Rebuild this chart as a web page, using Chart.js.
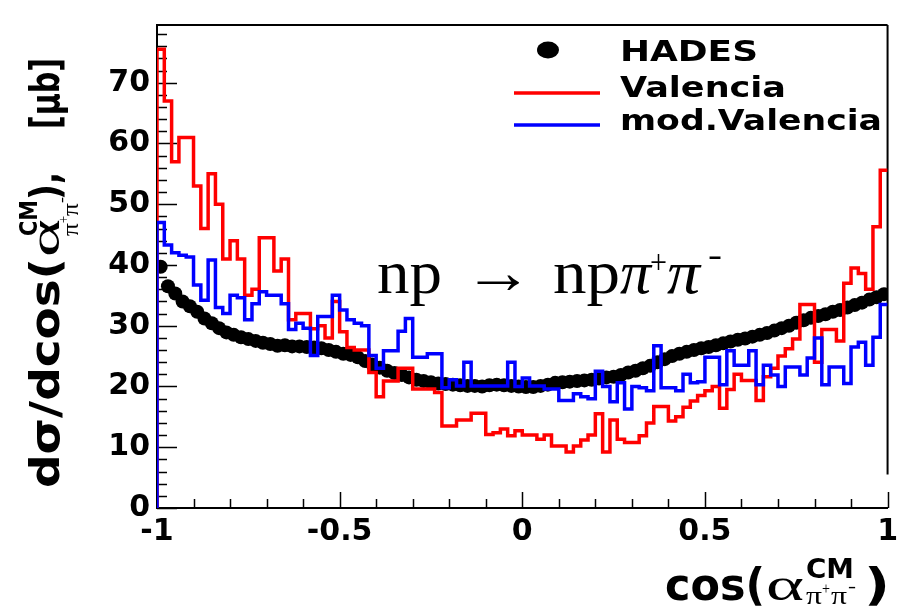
<!DOCTYPE html>
<html><head><meta charset="utf-8">
<script src="https://cdn.jsdelivr.net/npm/chart.js@4/dist/chart.umd.min.js"></script>
<style>html,body{margin:0;padding:0;background:#fff;}#wrap{width:904px;height:610px;}</style>
</head><body><div id="wrap"><canvas id="c" width="904" height="610"></canvas></div>
<script>
// ---- data ----
const xRange = [-1, 1];           // cos(alpha) range, 100 bins
const seriesNames = ['HADES', 'Valencia', 'mod.Valencia'];
const xTickLabels = ['-1', '-0.5', '0', '0.5', '1'];
const yTickLabels = ['0', '10', '20', '30', '40', '50', '60', '70'];
const hades = [39.7, 36.5, 35.3, 34.0, 33.2, 32.3, 31.2, 30.4, 29.6, 28.9,
  28.5, 28.1, 27.8, 27.5, 27.2, 27.0, 26.7, 26.8, 26.6, 26.6,
  26.5, 26.4, 26.3, 26.0, 25.7, 25.4, 25.2, 24.8, 24.2, 23.6,
  23.1, 22.6, 22.2, 21.9, 21.5, 21.1, 20.9, 20.7, 20.5, 20.4,
  20.3, 20.2, 20.1, 20.1, 20.0, 20.2, 20.3, 20.2, 20.1, 20.0,
  19.9, 19.9, 20.1, 20.3, 20.6, 20.7, 20.8, 20.9, 21.0, 21.1,
  21.3, 21.5, 21.6, 21.9, 22.3, 22.6, 23.0, 23.4, 24.0, 24.5,
  25.0, 25.4, 25.7, 26.0, 26.3, 26.5, 26.8, 27.1, 27.4, 27.7,
  27.9, 28.2, 28.5, 28.8, 29.2, 29.6, 30.0, 30.5, 30.9, 31.3,
  31.6, 31.9, 32.3, 32.6, 33.0, 33.4, 33.8, 34.3, 34.7, 35.2];
const valencia = [75.5, 67, 57, 61, 61, 53, 46, 55, 50, 41,
  44, 41, 35, 36, 44.5, 44.5, 39, 41, 31, 32,
  32, 29.5, 30, 28, 34, 29, 26.4, 26, 26, 22.3,
  18.3, 20.9, 20.9, 23, 23, 19.6, 19.6, 19.6, 19, 13.5,
  13.5, 14.5, 14.5, 15.6, 15.6, 12.1, 12.4, 13, 11.9, 12.7,
  12, 12, 11.3, 12, 10.2, 10.2, 9.2, 10.2, 11.2, 12,
  15.5, 9.2, 14.5, 11.3, 10.8, 10.8, 11.9, 14, 16.7, 16.7,
  14.3, 15, 16.6, 17.6, 18.5, 19.3, 20, 16.4, 19.5, 22,
  21, 21, 17.7, 21.6, 23, 25, 26.2, 27.8, 33.5, 33.5,
  24, 29.4, 29.4, 27.5, 37, 39.5, 38.6, 36, 46.3, 55.6];
const modValencia = [47, 43.3, 42, 41.6, 41.3, 36.7, 34.2, 40.8, 33, 32,
  35, 34.6, 31, 33.6, 35.6, 35, 35, 33.6, 29.4, 30.4,
  29.6, 25.1, 31.5, 31.5, 35, 32.6, 31, 30.4, 30, 25.1,
  23, 25.9, 25.9, 29.1, 31.2, 24.8, 24.8, 25.4, 25.4, 19.8,
  21.1, 20.1, 24, 20.1, 20.1, 20.1, 20.1, 20.1, 24, 20,
  21.4, 20.1, 20.1, 19.6, 19.6, 17.7, 17.7, 18.8, 18.3, 18,
  22.5, 20, 17.5, 20.6, 16.3, 20, 19.8, 19.3, 26.7, 19.8,
  19.8, 19.3, 22, 20.6, 20.8, 24.8, 24.8, 20.3, 25.9, 23.5,
  23.5, 25.9, 20.3, 23.5, 21.9, 20, 23.2, 23.2, 21.9, 24.7,
  28, 20.3, 23.2, 23.2, 20.5, 26.5, 27.3, 23.5, 28.1, 33.5];
const yMax = 79.5;

// ---- build library data ----
function binWidth(vals) { return (xRange[1] - xRange[0]) / vals.length; }
function histPoints(vals) {
  const w = binWidth(vals);
  const pts = [{x: xRange[0], y: 0}];
  vals.forEach((v, i) => pts.push({x: xRange[0] + i * w, y: v}));
  pts.push({x: xRange[1], y: vals[vals.length - 1]});
  return pts;
}
function centerPoints(vals) {
  const w = binWidth(vals);
  return vals.map((v, i) => ({x: xRange[0] + (i + 0.5) * w, y: v}));
}

const BOLD = '"DejaVu Sans"';
const SERIF = '"Liberation Serif"';

function seg(ctx, text, font, x, y, targetW) {
  ctx.font = font;
  const w = ctx.measureText(text).width;
  ctx.save();
  ctx.translate(x, y);
  if (targetW) ctx.scale(targetW / w, 1);
  ctx.fillText(text, 0, 0);
  ctx.restore();
}

const framePlugin = {
  id: 'frameTicks',
  beforeDatasetsDraw(chart) {
    const ctx = chart.ctx, a = chart.chartArea, xs = chart.scales.x, ys = chart.scales.y;
    ctx.save();
    ctx.strokeStyle = '#000';
    ctx.lineWidth = 2;
    ctx.beginPath();
    ctx.moveTo(a.left, a.top); ctx.lineTo(a.right, a.top);
    ctx.moveTo(a.right, a.top); ctx.lineTo(a.right, ys.getPixelForValue(5.5));
    ctx.stroke();
    ctx.lineWidth = 1.5;
    ctx.beginPath();
    for (let v = 0; v <= yMax; v += 2) {
      const y = Math.round(ys.getPixelForValue(v)) + 0.5;
      const L = (v % 10 === 0) ? 20 : 10;
      ctx.moveTo(a.left, y); ctx.lineTo(a.left + L, y);
    }
    for (let k = -10; k <= 10; k++) {
      const x = Math.round(xs.getPixelForValue(k / 10)) + 0.5;
      const L = (k % 5 === 0) ? 16 : 9;
      ctx.moveTo(x, a.bottom); ctx.lineTo(x, a.bottom - L);
    }
    ctx.stroke();
    ctx.restore();
  },
  afterDraw(chart) {
    const ctx = chart.ctx;
    const ds = chart.data.datasets;
    ctx.save();
    ctx.fillStyle = '#000';
    ctx.textBaseline = 'alphabetic';
    ctx.textAlign = 'left';
    // legend
    ctx.beginPath(); ctx.ellipse(548, 50, 11, 8.5, 0, 0, Math.PI * 2); ctx.fill();
    ctx.lineWidth = 3.5;
    ctx.strokeStyle = ds[1].borderColor;
    ctx.beginPath(); ctx.moveTo(514, 93); ctx.lineTo(600, 93); ctx.stroke();
    ctx.strokeStyle = ds[0].borderColor;
    ctx.beginPath(); ctx.moveTo(514, 125); ctx.lineTo(600, 125); ctx.stroke();
    const lf = 'bold 28px ' + BOLD;
    seg(ctx, seriesNames[0], lf, 620, 61, 138);
    seg(ctx, seriesNames[1], lf, 620, 97, 166);
    seg(ctx, seriesNames[2], lf, 620, 130, 262);

    // reaction annotation
    seg(ctx, 'np', '62px ' + SERIF, 377, 293, 65);
    seg(ctx, '\u2192', '62px ' + SERIF, 463, 293, 70);
    seg(ctx, 'np', '62px ' + SERIF, 553, 293, 67);
    seg(ctx, '\u03c0', 'italic 62px ' + SERIF, 620, 293, 31);
    seg(ctx, '+', '34px ' + SERIF, 650, 273, 17);
    seg(ctx, '\u03c0', 'italic 62px ' + SERIF, 667, 293, 33);
    seg(ctx, '-', '34px ' + SERIF, 708, 266, 14);

    // x axis title
    seg(ctx, 'cos(', 'bold 44px ' + BOLD, 665, 600, 100);
    seg(ctx, '\u03b1', '46px ' + SERIF, 766, 600, 38);
    seg(ctx, 'CM', 'bold 26px ' + BOLD, 806, 578, 48);
    seg(ctx, '\u03c0', '26px ' + SERIF, 806, 604, 16);
    seg(ctx, '+', '16px ' + SERIF, 822, 594, 8);
    seg(ctx, '\u03c0', '26px ' + SERIF, 831, 604, 16);
    seg(ctx, '-', '18px ' + SERIF, 848, 592, 8);
    seg(ctx, ')', 'bold 44px ' + BOLD, 864, 600, 26);

    // y axis title (rotated)
    ctx.save();
    ctx.translate(59, 488);
    ctx.rotate(-Math.PI / 2);
    seg(ctx, 'd\u03c3/dcos(', 'bold 40px ' + BOLD, 0, 0, 230);
    seg(ctx, '\u03b1', '42px ' + SERIF, 231, 0, 38);
    seg(ctx, 'CM', 'bold 24px ' + BOLD, 252, -22, 36);
    seg(ctx, '\u03c0', '24px ' + SERIF, 252, 19, 13);
    seg(ctx, '+', '15px ' + SERIF, 265, 9, 7);
    seg(ctx, '\u03c0', '24px ' + SERIF, 272, 19, 13);
    seg(ctx, '-', '16px ' + SERIF, 285, 8, 6);
    seg(ctx, ')', 'bold 40px ' + BOLD, 288, 0, 16);
    seg(ctx, ',', 'bold 40px ' + BOLD, 304, 0, 12);
    seg(ctx, '[\u03bcb]', 'bold 40px ' + BOLD, 359, 0, 71);
    ctx.restore();
    ctx.restore();
  }
};

const tickFont = {family: BOLD, weight: 'bold', size: 30};

new Chart(document.getElementById('c'), {
  type: 'line',
  data: {
    datasets: [
      {label: seriesNames[2], data: histPoints(modValencia), stepped: 'before', borderColor: '#0000ff',
       borderWidth: 3.5, pointRadius: 0, fill: false, order: 0},
      {label: seriesNames[1], data: histPoints(valencia), stepped: 'before', borderColor: '#ff0000',
       borderWidth: 3.5, pointRadius: 0, fill: false, order: 1},
      {label: seriesNames[0], data: centerPoints(hades), showLine: false, pointRadius: 7,
       pointBackgroundColor: '#000', pointBorderWidth: 0, borderColor: '#000', order: 2}
    ]
  },
  options: {
    responsive: false,
    animation: false,
    devicePixelRatio: 1,
    layout: {padding: {top: 8, right: 14, left: 0, bottom: 0}},
    plugins: {legend: {display: false}, tooltip: {enabled: false}},
    scales: {
      x: {
        type: 'linear', min: xRange[0], max: xRange[1], position: 'bottom',
        afterFit(s) { s.height = 102; },
        grid: {display: false, drawTicks: false},
        border: {display: true, color: '#000', width: 2},
        ticks: {
          stepSize: 0.1, autoSkip: false, maxRotation: 0, padding: 6, color: '#000', font: tickFont,
          callback(v) { const s = String(Math.round(v * 10) / 10); return xTickLabels.includes(s) ? s : ''; }
        }
      },
      y: {
        type: 'linear', min: 0, max: yMax,
        afterFit(s) { s.width = 157; },
        grid: {display: false, drawTicks: false},
        border: {display: true, color: '#000', width: 2},
        ticks: {
          stepSize: 10, autoSkip: false, padding: 7, color: '#000', font: tickFont,
          callback(v) { const s = String(Math.round(v)); return (Math.abs(v - Math.round(v)) < 1e-6 && yTickLabels.includes(s)) ? s : ''; }
        }
      }
    }
  },
  plugins: [framePlugin]
});
</script></body></html>
